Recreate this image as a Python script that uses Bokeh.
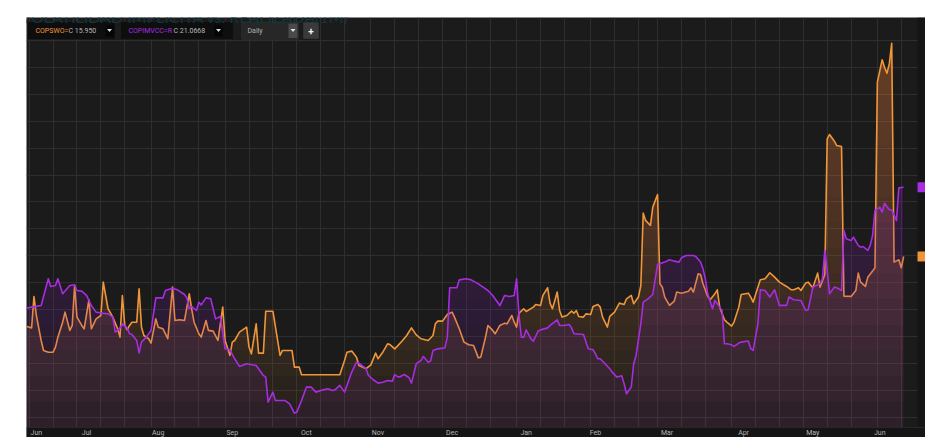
import numpy as np
import pandas as pd
from bokeh.plotting import figure
from bokeh.models import (Range1d, FixedTicker, DatetimeTickFormatter, Label,
                          BoxAnnotation, PolyAnnotation)
from bokeh.embed import file_html
from bokeh.resources import INLINE

# ---------------- data ----------------
BASE = pd.Timestamp("2021-06-01")  # day offsets below count from this date

orange_day = [9, 11, 12, 13, 15, 16, 18, 20, 21, 22, 24, 25, 27, 28, 29, 30, 32, 33, 35, 36,
              38, 40, 41, 43, 45, 47, 48, 49, 50, 51, 52, 53, 55, 56, 57, 58, 60, 61, 63, 64,
              66, 68, 70, 71, 73, 75, 77, 78, 79, 81, 82, 84, 85, 87, 89, 91, 92, 94, 95, 96,
              98, 101, 102, 103, 105, 106, 108, 109, 112, 115, 116, 120, 121, 123, 124, 140, 142, 143, 145, 147,
              148, 151, 153, 155, 156, 158, 160, 161, 163, 164, 166, 168, 170, 172, 174, 177, 179, 180, 181, 183,
              185, 187, 188, 190, 192, 194, 196, 198, 199, 201, 202, 204, 205, 207, 209, 210, 212, 213, 214, 215,
              217, 218, 221, 222, 224, 225, 227, 228, 229, 230, 231, 232, 233, 235, 237, 238, 239, 240, 242, 243,
              245, 246, 248, 249, 250, 252, 253, 255, 257, 259, 260, 262, 263, 265, 266, 267, 268, 270, 271, 273,
              274, 275, 276, 278, 280, 281, 283, 286, 287, 288, 290, 291, 292, 294, 295, 297, 298, 299, 301, 302,
              304, 305, 307, 308, 311, 312, 313, 316, 318, 320, 322, 324, 327, 329, 330, 332, 333, 335, 336, 338,
              340, 341, 343, 344, 345, 347, 348, 350, 351, 354, 356, 357, 358, 360, 361, 363, 364, 365, 367, 368,
              369, 370, 371, 372, 374, 375, 376]
orange_vol = [10.74, 10.64, 12.97, 11.56, 9.70, 8.96, 8.83, 8.83, 9.21, 9.95, 11.06, 11.81, 10.45, 10.82, 13.79, 11.44, 10.82, 10.57, 12.73, 10.57,
              11.31, 11.56, 14.04, 12.06, 11.44, 10.57, 9.95, 13.05, 10.82, 10.49, 10.82, 11.06, 11.06, 13.54, 10.69, 10.07, 9.83, 9.50, 11.31, 10.69,
              10.57, 9.83, 13.67, 11.19, 11.24, 11.19, 13.17, 12.06, 11.06, 10.20, 9.95, 11.19, 10.45, 10.40, 9.70, 12.18, 9.70, 8.59, 9.58, 9.70,
              10.32, 10.69, 9.21, 8.71, 10.94, 8.76, 8.76, 11.88, 11.88, 8.59, 8.96, 8.96, 7.72, 7.72, 7.15, 7.15, 8.22, 8.83, 8.91, 8.46,
              7.84, 7.60, 7.89, 8.76, 8.34, 8.83, 9.45, 9.40, 9.08, 9.26, 9.65, 10.07, 10.64, 10.12, 9.83, 9.70, 10.07, 10.94, 11.14, 11.14,
              11.63, 11.81, 11.44, 10.57, 9.58, 9.38, 9.33, 8.41, 8.46, 9.95, 10.82, 10.45, 10.20, 10.82, 10.99, 10.94, 11.56, 11.06, 10.69, 11.73,
              12.06, 11.86, 12.18, 12.38, 12.30, 13.05, 13.62, 12.48, 12.06, 12.68, 13.30, 11.93, 11.44, 11.56, 11.88, 11.73, 11.93, 11.49, 11.44, 11.68,
              11.63, 12.23, 12.38, 12.18, 11.44, 10.70, 11.49, 11.81, 12.48, 12.38, 12.80, 13.05, 12.43, 12.93, 13.79, 19.17, 18.63, 18.25, 19.62, 20.56,
              13.92, 13.67, 12.93, 12.31, 12.63, 13.30, 13.22, 13.37, 13.62, 13.30, 14.66, 14.61, 13.92, 12.98, 12.73, 13.17, 13.47, 12.18, 11.24, 11.07,
              10.77, 11.07, 12.18, 13.12, 13.22, 12.93, 12.55, 14.22, 14.29, 14.74, 14.41, 14.04, 13.72, 13.47, 13.47, 13.62, 13.42, 13.97, 14.04, 13.62,
              14.71, 13.67, 14.60, 24.69, 25.02, 24.52, 24.20, 24.12, 13.00, 12.98, 13.42, 14.71, 14.04, 13.72, 14.41, 14.86, 15.11, 28.91, 30.57, 30.02,
              29.57, 30.27, 31.80, 15.53, 15.70, 15.11, 15.95]

purple_day = [9, 11, 15, 18, 19, 21, 22, 24, 27, 29, 30, 32, 34, 36, 38, 41, 43, 45, 46, 48,
              49, 51, 52, 53, 55, 56, 57, 59, 61, 63, 66, 67, 70, 72, 75, 76, 77, 78, 80, 81,
              82, 84, 86, 88, 90, 92, 94, 96, 98, 101, 105, 108, 109, 110, 112, 113, 117, 119, 121, 122,
              124, 126, 128, 130, 133, 135, 137, 138, 140, 142, 145, 147, 148, 151, 152, 154, 156, 158, 160, 162,
              163, 164, 165, 167, 169, 170, 172, 174, 175, 177, 178, 179, 181, 183, 184, 185, 186, 189, 190, 193,
              195, 198, 200, 202, 204, 207, 209, 211, 213, 214, 215, 216, 217, 218, 220, 221, 223, 224, 227, 228,
              231, 232, 234, 236, 237, 238, 242, 244, 246, 247, 248, 249, 251, 253, 254, 256, 258, 259, 260, 262,
              263, 264, 266, 267, 269, 271, 273, 274, 276, 278, 280, 282, 283, 285, 288, 289, 291, 292, 293, 294,
              296, 297, 299, 300, 301, 302, 304, 305, 307, 308, 311, 312, 313, 315, 316, 318, 320, 321, 322, 324,
              327, 328, 330, 333, 335, 336, 337, 338, 341, 342, 343, 344, 345, 347, 348, 350, 351, 352, 354, 355,
              357, 358, 359, 361, 362, 363, 364, 366, 367, 368, 370, 371, 373, 374, 376]
purple_vol = [12.11, 12.18, 12.30, 14.29, 13.72, 13.79, 14.29, 13.17, 13.79, 13.84, 13.42, 13.37, 13.05, 12.30, 11.81, 11.73, 11.68, 11.44, 10.32, 10.64,
              10.94, 10.64, 10.20, 10.15, 9.70, 8.78, 9.58, 9.95, 10.45, 12.87, 12.87, 13.42, 13.59, 13.47, 13.12, 12.87, 12.06, 12.23, 11.93, 12.55,
              12.35, 12.87, 12.80, 11.31, 11.49, 9.08, 9.01, 8.34, 7.77, 7.97, 7.84, 7.10, 6.98, 5.12, 5.86, 5.24, 5.24, 4.99, 4.30, 4.37,
              5.24, 6.23, 6.23, 5.86, 6.03, 6.11, 5.98, 6.03, 6.36, 5.86, 7.35, 8.09, 8.02, 7.60, 7.10, 6.78, 6.53, 6.60, 6.73, 6.68,
              7.17, 7.03, 6.98, 7.17, 6.93, 6.53, 7.97, 8.22, 8.51, 8.09, 8.17, 8.96, 9.08, 9.13, 9.16, 9.95, 13.62, 13.62, 14.21, 14.29,
              14.21, 13.91, 13.67, 13.42, 13.05, 12.30, 13.05, 12.97, 13.05, 14.29, 11.56, 9.95, 9.95, 10.49, 9.83, 9.65, 10.40, 10.49, 10.64, 10.82,
              11.24, 10.82, 10.82, 10.89, 10.64, 10.20, 10.15, 9.08, 9.01, 8.71, 8.34, 8.34, 7.97, 7.60, 7.35, 6.98, 7.08, 6.48, 5.74, 6.24,
              7.97, 8.59, 10.94, 12.55, 12.80, 13.12, 15.36, 15.40, 15.53, 15.70, 15.60, 15.53, 15.85, 16.02, 16.02, 15.95, 15.53, 15.03, 14.29, 13.17,
              12.06, 12.68, 12.18, 11.93, 9.46, 9.46, 9.38, 9.26, 9.51, 9.58, 9.66, 9.09, 8.96, 10.94, 13.47, 13.42, 12.93, 13.22, 13.47, 12.31,
              12.31, 12.93, 12.73, 12.68, 11.93, 11.98, 12.80, 13.67, 13.92, 14.29, 16.40, 14.91, 13.17, 13.67, 13.62, 13.42, 17.88, 17.26, 17.14, 17.39,
              16.77, 16.64, 16.69, 16.40, 16.77, 17.51, 19.37, 19.62, 19.25, 19.91, 19.42, 19.42, 18.63, 21.05, 21.10]

month_labels = ["Jun", "Jul", "Aug", "Sep", "Oct", "Nov", "Dec", "Jan", "Feb", "Mar", "Apr", "May", "Jun"]
month_label_dates = ["2021-06-14", "2021-07-05", "2021-08-04", "2021-09-04", "2021-10-05", "2021-11-04",
                     "2021-12-05", "2022-01-05", "2022-02-03", "2022-03-05", "2022-04-06", "2022-05-05",
                     "2022-06-02"]

title_text = "VOLATILIDAD IMPLÍCITA vs. REALIZADA(1M)"
orange_name, orange_last = "COPSWO=", "C 15.950"
purple_name, purple_last = "COPIMVCC=R", "C 21.0668"
interval_text = "Daily"

# ---------------- styling / layout ----------------
ORANGE = "#f0963a"
PURPLE = "#a82ce2"
BG = "#1b1b1b"
STRIP = "#151515"
GRID = "#2e2e2e"
W, H = 925, 437
LEFT, TOP = 26, 17
PXU = 13.447                     # pixels per vol point
Y_HI = 33.72                     # value at the top of the chart panel
Y_FLOOR = 3.23                   # value at the top of the date strip
Y_LO = Y_HI - (H - TOP) / PXU    # panel extends over the date strip
DAY0, DAY_PLOT_END = 8.87, 381.8         # plotted window (days from BASE)
DAY_END = DAY_PLOT_END + 8 / 2.389       # plus the right-hand value column


def yd(page_y):
    """page pixel row -> data y (for header widgets inside the panel)"""
    return Y_HI - (page_y - TOP) / PXU


def ms(ts):
    return pd.Timestamp(ts).value / 1e6


o_dates = BASE + pd.to_timedelta(orange_day, unit="D")
p_dates = BASE + pd.to_timedelta(purple_day, unit="D")

p = figure(width=W, height=H, x_axis_type="datetime",
           x_range=Range1d(ms(BASE + pd.Timedelta(days=DAY0)), ms(BASE + pd.Timedelta(days=DAY_END))),
           y_range=Range1d(Y_LO, Y_HI),
           y_axis_location=None, output_backend="svg", toolbar_location=None,
           background_fill_color=BG, border_fill_color="white",
           min_border_left=LEFT, min_border_right=0, min_border_top=TOP, min_border_bottom=0)
p.outline_line_color = None

# grid: vertical lines on the 1st, 11th and 21st of each month, horizontal every 2 points
grid_ticks = []
for m in pd.date_range("2021-06-01", "2022-06-01", freq="MS"):
    for dd in (0, 10, 20):
        grid_ticks.append(ms(m + pd.Timedelta(days=dd)))
p.xgrid.ticker = FixedTicker(ticks=grid_ticks)
p.xgrid.grid_line_color = GRID
for g in p.ygrid:
    g.ticker = FixedTicker(ticks=list(range(4, 36, 2)))
    g.grid_line_color = GRID

# dark date strip and right value column (drawn over the grid)
p.add_layout(BoxAnnotation(top=Y_FLOOR, fill_color=STRIP, fill_alpha=1, line_color=None, level="underlay"))
p.add_layout(BoxAnnotation(left=ms(BASE + pd.Timedelta(days=DAY_PLOT_END)), fill_color=STRIP,
                           fill_alpha=1, line_color=None, level="underlay"))

ax = p.xaxis[0]
ax.fixed_location = Y_FLOOR
ax.ticker = FixedTicker(ticks=[ms(d) for d in month_label_dates])
ax.formatter = DatetimeTickFormatter(days="%b", months="%b", years="%b", hours="%b")
ax.major_tick_line_color = None
ax.minor_tick_line_color = None
ax.major_tick_out = 0
ax.major_tick_in = 0
ax.minor_tick_out = 0
ax.minor_tick_in = 0
ax.axis_line_color = "#262626"
ax.major_label_text_color = "#b4b4b4"
ax.major_label_text_font = "Roboto"
ax.major_label_text_font_size = "7px"
ax.major_label_standoff = 2


def gradient_area(dates, vals, color, a_bottom, a_top, n=16):
    vals = np.asarray(vals, dtype=float)
    p.varea(x=dates, y1=Y_FLOOR, y2=vals, fill_color=color, fill_alpha=a_bottom)
    step = 1 - ((1 - a_top) / (1 - a_bottom)) ** (1.0 / n)
    for lo in np.linspace(Y_FLOOR, Y_HI, n + 1)[:-1]:
        p.varea(x=dates, y1=lo, y2=np.maximum(vals, lo), fill_color=color, fill_alpha=step)


gradient_area(o_dates, orange_vol, ORANGE, 0.02, 0.36)
p.line(o_dates, orange_vol, line_color=ORANGE, line_width=1.6, line_join="round")
gradient_area(p_dates, purple_vol, PURPLE, 0.05, 0.30)
p.line(p_dates, purple_vol, line_color=PURPLE, line_width=1.6, line_join="round")

# last-value tags in the right-hand value column
half = 5 / PXU
tag_left = ms(BASE + pd.Timedelta(days=DAY_PLOT_END))
for last, col in ((purple_vol[-1], PURPLE), (orange_vol[-1], ORANGE)):
    p.add_layout(BoxAnnotation(left=tag_left, bottom=last - half, top=last + half,
                               fill_color=col, fill_alpha=1, line_color=None))


# ---------------- header controls (x: screen px from panel left, y: page rows) ----------------
def box(l, r, b, t, fill, line=None):
    p.add_layout(BoxAnnotation(left=l, right=r, bottom=yd(b), top=yd(t),
                               left_units="screen", right_units="screen",
                               fill_color=fill, fill_alpha=1, line_color=line, line_width=1))


def tri(cx, cy, fill):
    p.add_layout(PolyAnnotation(xs=[cx - 2.5, cx + 2.5, cx],
                                ys=[yd(cy - 1.5), yd(cy - 1.5), yd(cy + 1.5)],
                                xs_units="screen", fill_color=fill, fill_alpha=1, line_color=None))


def label(x, y, text, color, size="7px", font="Roboto", align="left", style="normal"):
    p.add_layout(Label(x=x, y=yd(y), x_units="screen", text=text,
                       text_color=color, text_font_size=size, text_font=font,
                       text_align=align, text_baseline="middle", text_font_style=style))


box(1, 89, 39, 21.3, "#0e0e0e", "#2c2c2c")
box(79, 87, 36, 24.5, "#050505")
tri(83, 30, "#dddddd")
label(9, 30, orange_name, ORANGE)
label(42, 30, orange_last, "#b8b8b8")

box(94, 207, 39, 21.3, "#0e0e0e", "#2c2c2c")
box(188, 196, 36, 24.5, "#050505")
tri(192, 30, "#dddddd")
label(102, 30, purple_name, PURPLE)
label(147, 30, purple_last, "#b8b8b8")

box(215, 272, 39, 21.3, "#272727", "#383838")
box(262, 271, 37.5, 23, "#4a4a4a")
tri(266.5, 30, "#e6e6e6")
label(221, 30, interval_text, "#b0b0b0")

box(277, 292, 38, 22, "#3a3a3a", "#454545")
label(284.5, 30, "+", "#f2f2f2", size="10px", align="center", style="bold")

# title in the white band above the panel
p.add_layout(Label(x=-6, y=yd(16), x_units="screen", text=title_text,
                   text_color="#12353f", text_font_size="16px", text_font="Lato",
                   text_align="left", text_baseline="alphabetic"))

open("out.html", "w").write(file_html(p, INLINE))
